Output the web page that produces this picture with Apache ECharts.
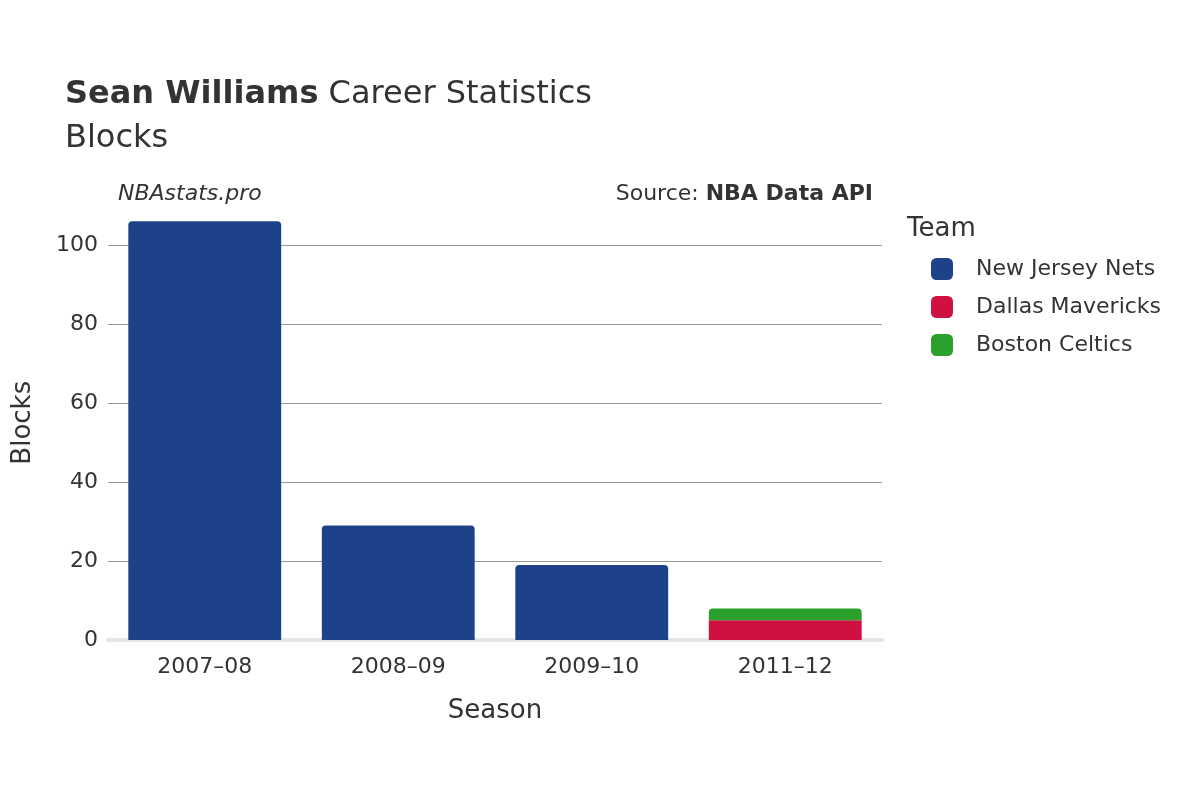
<!DOCTYPE html>
<html><head><meta charset="utf-8">
<script src="https://cdn.jsdelivr.net/npm/echarts@6/dist/echarts.min.js"></script>
<style>html,body{margin:0;padding:0;background:#fff}#c{width:1200px;height:800px}</style>
</head><body><div id="c"></div>
<script>
const seasons = ['2007–08','2008–09','2009–10','2011–12'];
const njn = [106, 29, 19, null];
const dal = [null, null, null, 5];
const bos = [null, null, null, 3];
const teams = ['New Jersey Nets','Dallas Mavericks','Boston Celtics'];
const colors = ['#1d428a','#ce1141','#2ca02c'];
const font = 'DejaVu Sans';
const chart = echarts.init(document.getElementById('c'));
chart.setOption({
  animation:false,
  textStyle:{fontFamily:font},
  title:[
    {text:'{b|Sean Williams} Career Statistics\nBlocks',left:60,top:68,
     textStyle:{fontFamily:font,fontSize:32,fontWeight:'normal',color:'#333',lineHeight:44,
       rich:{b:{fontFamily:font,fontSize:32,fontWeight:'bold',color:'#333'}}}},
    {text:'NBAstats.pro',left:113,top:178,textStyle:{fontFamily:font,fontSize:22,fontStyle:'italic',fontWeight:'normal',color:'#333'}},
    {text:'Source: {b|NBA Data API}',right:322,top:178,textStyle:{fontFamily:font,fontSize:22,fontWeight:'normal',color:'#333',
       rich:{b:{fontFamily:font,fontSize:22,fontWeight:'bold',color:'#333'}}}},
    {text:'Team',left:902,top:211,textStyle:{fontFamily:font,fontSize:26,fontWeight:'normal',color:'#333'}}
  ],
  legend:{orient:'vertical',left:926,top:253,itemWidth:22,itemHeight:22,itemGap:16,icon:'roundRect',
    textStyle:{fontFamily:font,fontSize:22,color:'#333',padding:[0,0,0,18]},data:teams},
  grid:{left:108,right:318,top:205.5,bottom:160},
  xAxis:{type:'category',data:seasons,name:'Season',nameLocation:'middle',nameGap:58,
    nameTextStyle:{fontSize:26,color:'#333'},
    axisLine:{lineStyle:{color:'#e6e6e6',width:4}},axisTick:{show:false},
    axisLabel:{fontSize:22,color:'#333',margin:16}},
  yAxis:{type:'value',min:0,max:110,interval:20,name:'Blocks',nameLocation:'middle',nameGap:72,
    nameTextStyle:{fontSize:26,color:'#333'},
    axisLabel:{fontSize:22,color:'#333',showMaxLabel:false,margin:10},
    splitLine:{showMaxLine:false,lineStyle:{color:'#999',width:1}}},
  series:[
    {name:teams[0],type:'bar',stack:'a',data:njn,itemStyle:{color:colors[0],borderRadius:[4,4,0,0]},barCategoryGap:'21%'},
    {name:teams[1],type:'bar',stack:'a',data:dal,itemStyle:{color:colors[1],borderColor:'#fff',borderWidth:0}},
    {name:teams[2],type:'bar',stack:'a',data:bos,itemStyle:{color:colors[2],borderRadius:[4,4,0,0]}}
  ]
});
</script></body></html>
